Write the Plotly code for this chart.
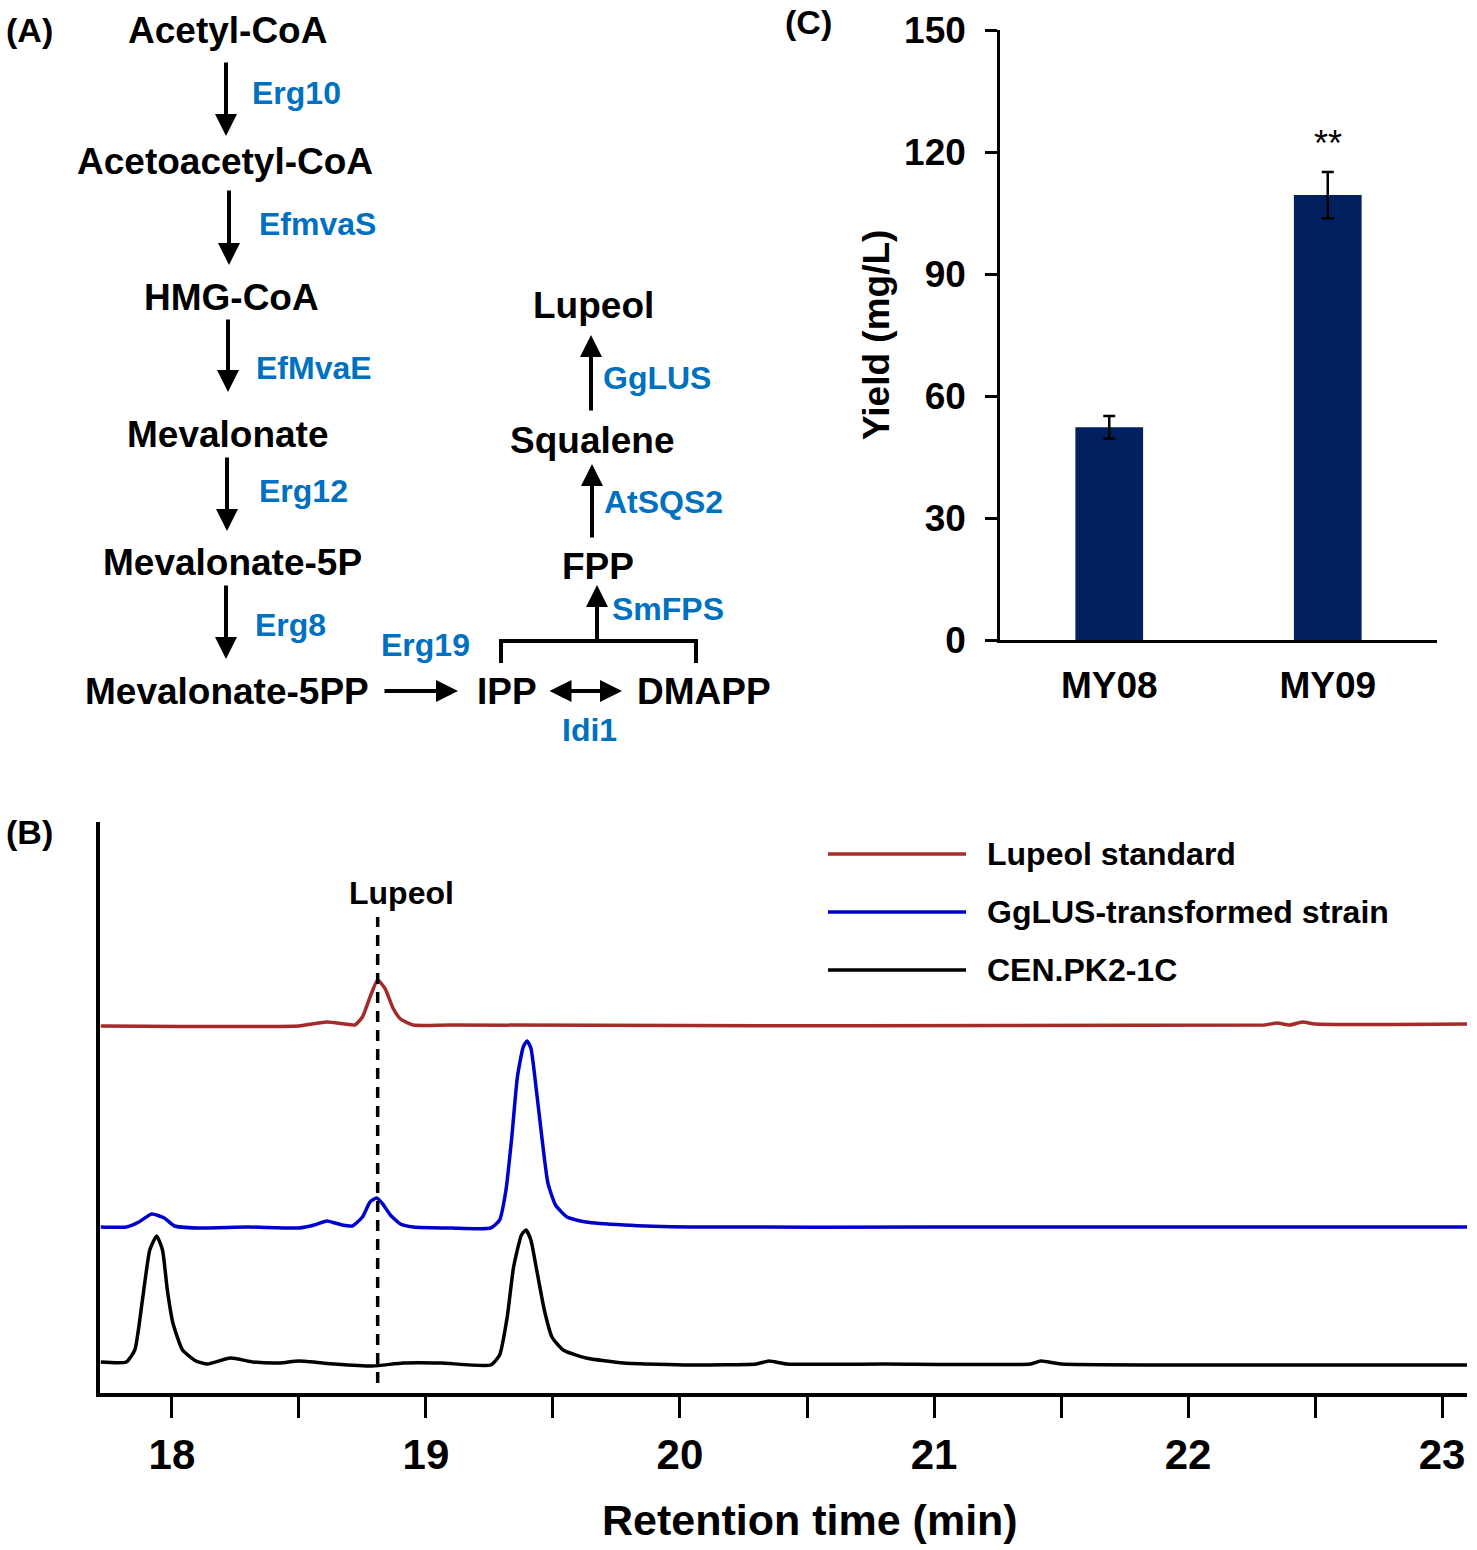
import plotly.graph_objects as go

W, H = 1477, 1550
FONT = "Arial, Liberation Sans, sans-serif"
ENZ_BLUE = "#0070C0"

# (C) lupeol yield of the two strains
strains = ["MY08", "MY09"]
yield_mg_l = [52.3, 109.4]
yield_sd = [2.8, 5.7]

# (B) GC traces: retention time (min) and stacked signal (a.u.)
std_time = [17.72, 18.50, 18.55, 18.61, 18.68, 18.72, 18.75, 18.78, 18.81, 18.84,
            18.87, 18.90, 18.95, 19.10, 22.30, 22.35, 22.40, 22.45, 22.50, 23.10]
std_signal = [367, 367, 369, 371, 369, 368, 376, 396, 413, 404,
              385, 374, 368, 368, 368, 370, 368, 371, 369, 369]

gglus_time = [17.72, 17.82, 17.87, 17.92, 17.97, 18.01, 18.10, 18.30, 18.50, 18.56,
              18.61, 18.67, 18.71, 18.75, 18.78, 18.806, 18.83, 18.86, 18.90, 18.95,
              19.10, 19.255, 19.29, 19.315, 19.338, 19.36, 19.383, 19.398, 19.413, 19.436,
              19.459, 19.48, 19.51, 19.555, 19.63, 19.78, 20.04, 21.00, 22.00, 23.10]
gglus_signal = [166, 166, 171, 179, 175, 167, 165, 166, 165, 168,
                172, 168, 167, 176, 191, 195, 189, 178, 169, 166,
                165, 165, 173, 203, 256, 316, 346, 352, 345, 300,
                250, 210, 188, 176, 171, 168, 166, 166, 166, 166]

cen_time = [17.72, 17.82, 17.854, 17.884, 17.913, 17.94, 17.963, 17.982, 18.004, 18.042,
            18.095, 18.14, 18.23, 18.32, 18.425, 18.50, 18.64, 18.79, 18.91, 19.06,
            19.255, 19.29, 19.32, 19.345, 19.376, 19.394, 19.413, 19.436, 19.466, 19.496,
            19.54, 19.63, 19.78, 20.04, 20.30, 20.35, 20.42, 20.80, 21.38, 21.42,
            21.50, 22.00, 23.10]
cen_signal = [31, 31, 43, 93, 143, 157, 143, 103, 70, 43,
              32, 29, 35, 31, 30, 32, 29, 27, 30, 30,
              28, 38, 76, 126, 158, 163, 153, 123, 83, 56,
              43, 35, 30, 28, 29, 32, 29, 29, 29, 32,
              29, 28, 28]

lupeol_rt = 18.81

traces = [
    ("Lupeol standard", std_time, std_signal, "#A52A2A"),
    ("GgLUS-transformed strain", gglus_time, gglus_signal, "#0000CC"),
    ("CEN.PK2-1C", cen_time, cen_signal, "black"),
]


def px(x):
    return x / W


def py(y):
    return 1 - y / H


annotations = []
shapes = []


def label(x, y, text, size, color="black", anchor="center", bold=True, angle=0):
    annotations.append(dict(
        x=px(x), y=py(y), xref="paper", yref="paper", text=text, showarrow=False,
        font=dict(family=FONT, size=size, color=color, weight="bold" if bold else "normal"),
        xanchor=anchor, yanchor="middle", textangle=angle,
    ))


def arrow(x0, y0, x1, y1, both=False):
    annotations.append(dict(
        x=px(x1), y=py(y1), xref="paper", yref="paper",
        ax=x0 - x1, ay=y0 - y1, axref="pixel", ayref="pixel",
        text="", showarrow=True, arrowhead=2, arrowsize=1.1, arrowwidth=4,
        arrowcolor="black", arrowside="end+start" if both else "end", standoff=0,
        startstandoff=0, startarrowhead=2, startarrowsize=1.1,
    ))


fig = go.Figure()

for name, t, s, color in traces:
    fig.add_trace(go.Scatter(
        x=t, y=s, mode="lines", name=name,
        line=dict(color=color, width=3.5, shape="spline", smoothing=0.5),
        showlegend=False, xaxis="x", yaxis="y",
    ))

fig.add_trace(go.Bar(
    x=strains, y=yield_mg_l, name="Yield",
    marker=dict(color="#002060", line=dict(width=0)),
    error_y=dict(type="data", array=yield_sd, color="black", thickness=2.5, width=6),
    showlegend=False, xaxis="x2", yaxis="y2",
))

# significance mark
annotations.append(dict(
    x="MY09", y=122, xref="x2", yref="y2", text="**", showarrow=False,
    font=dict(family=FONT, size=36, color="black"), yanchor="middle",
))

# panel letters
label(30, 30, "(A)", 34)
label(30, 832, "(B)", 34)
label(809, 22, "(C)", 34)

# (A) mevalonate pathway
metabolites = [
    ("Acetyl-CoA", 227, 30), ("Acetoacetyl-CoA", 225, 162), ("HMG-CoA", 231, 297),
    ("Mevalonate", 228, 434), ("Mevalonate-5P", 232, 562), ("Mevalonate-5PP", 227, 691),
    ("IPP", 507, 691), ("DMAPP", 704, 691), ("FPP", 598, 566),
    ("Squalene", 592, 440), ("Lupeol", 593, 305),
]
for text, x, y in metabolites:
    label(x, y, text, 37)

enzymes = [
    ("Erg10", 296, 93), ("EfmvaS", 317, 224), ("EfMvaE", 314, 368),
    ("Erg12", 303, 491), ("Erg8", 290, 625), ("Erg19", 425, 645),
    ("Idi1", 589, 730), ("SmFPS", 668, 609), ("AtSQS2", 663, 502), ("GgLUS", 657, 378),
]
for text, x, y in enzymes:
    label(x, y, text, 32, color=ENZ_BLUE)

arrow(226, 61, 226, 136)
arrow(229, 189, 229, 265)
arrow(228, 318, 228, 392)
arrow(227, 456, 227, 531)
arrow(226, 584, 226, 659)
arrow(383, 691, 458, 691)
arrow(548, 691, 622, 691, both=True)
arrow(597, 641, 597, 585)
arrow(592, 539, 592, 464)
arrow(591, 412, 591, 335)

shapes.append(dict(
    type="path", xref="paper", yref="paper",
    path=f"M {px(501)},{py(663)} L {px(501)},{py(641)} L {px(696)},{py(641)} L {px(696)},{py(663)}",
    line=dict(color="black", width=4),
))

# (B) lupeol marker line
shapes.append(dict(
    type="line", xref="x", yref="paper", x0=lupeol_rt, x1=lupeol_rt, y0=py(1383), y1=py(917),
    line=dict(color="black", width=3.5, dash="11px,8px"),
))
annotations.append(dict(
    x=18.905, y=py(893), xref="x", yref="paper", text="Lupeol", showarrow=False,
    font=dict(family=FONT, size=32, color="black", weight="bold"), yanchor="middle",
))

# (B) legend
for i, (name, _, _, color) in enumerate(traces):
    yy = 854 + 58 * i
    shapes.append(dict(type="line", xref="paper", yref="paper", x0=px(828), x1=px(966),
                       y0=py(yy), y1=py(yy), line=dict(color=color, width=3.5)))
    label(985, yy, name, 32, anchor="left")

# axis titles
label(810, 1520, "Retention time (min)", 43)
label(877, 335, "Yield (mg/L)", 37, angle=-90)

tick_bold = dict(family=FONT, color="black", weight="bold")

fig.update_layout(
    width=W, height=H,
    margin=dict(l=0, r=0, t=0, b=0, pad=0, autoexpand=False),
    paper_bgcolor="white", plot_bgcolor="white",
    bargap=0.69,
    annotations=annotations,
    shapes=shapes,
    xaxis=dict(
        domain=[px(100), px(1467)], range=[17.717, 23.098], anchor="y",
        showline=True, linecolor="black", linewidth=3.5,
        tickmode="linear", tick0=18, dtick=1,
        ticks="outside", ticklen=21, tickwidth=3, tickcolor="black",
        minor=dict(ticks="outside", ticklen=21, tickwidth=3, tickcolor="black", tick0=18, dtick=0.5),
        tickfont=dict(size=42, **tick_bold), ticklabelstandoff=1,
        showgrid=False, zeroline=False, automargin=False,
    ),
    yaxis=dict(
        domain=[py(1393), py(822)], range=[0, 571], anchor="x",
        showline=True, linecolor="black", linewidth=3.5,
        showticklabels=False, ticks="", showgrid=False, zeroline=False, automargin=False,
    ),
    xaxis2=dict(
        domain=[px(1000), px(1437)], anchor="y2",
        showline=True, linecolor="black", linewidth=2.5, ticks="",
        tickfont=dict(size=37, **tick_bold), ticklabelstandoff=11,
        showgrid=False, zeroline=False, automargin=False,
    ),
    yaxis2=dict(
        domain=[py(640), py(30)], range=[0, 150], anchor="x2",
        tickvals=[0, 30, 60, 90, 120, 150],
        showline=True, linecolor="black", linewidth=2.5,
        ticks="outside", ticklen=12, tickwidth=2.5, tickcolor="black",
        tickfont=dict(size=37, **tick_bold), ticklabelstandoff=12,
        showgrid=False, zeroline=False, automargin=False,
    ),
)

fig.write_html("out.html", config={"displayModeBar": False},
               post_script="document.body.style.margin='0px';")
